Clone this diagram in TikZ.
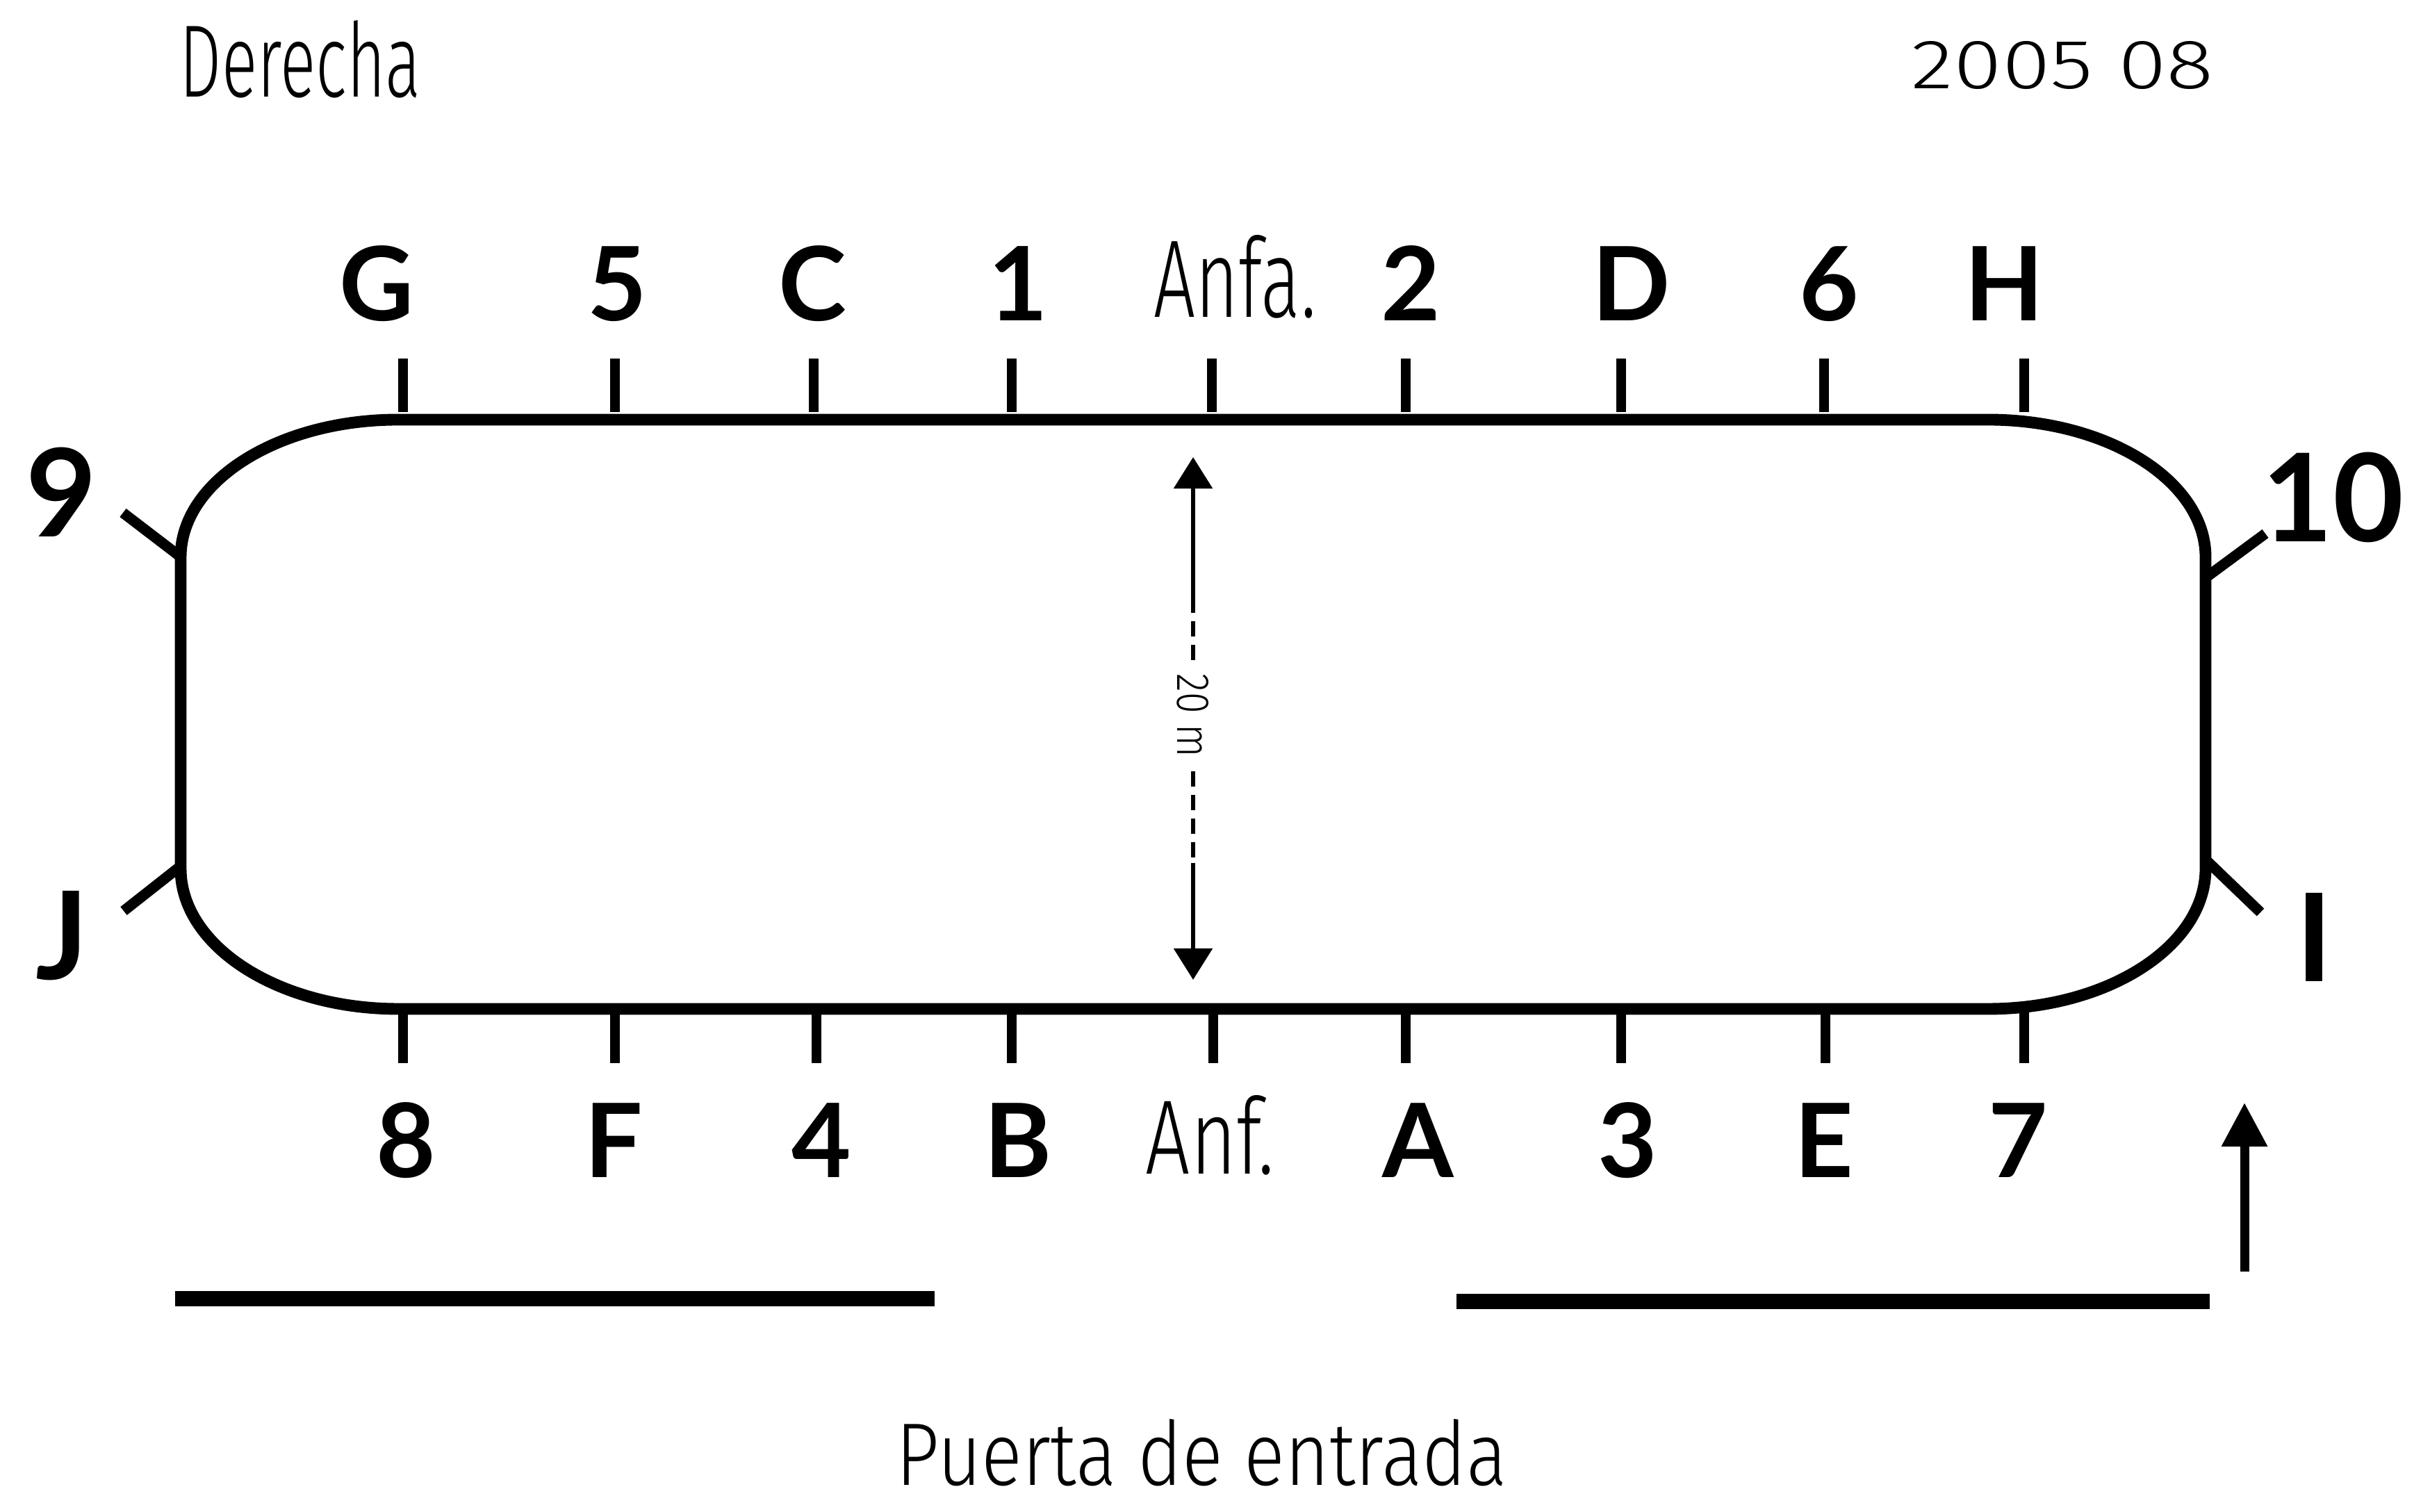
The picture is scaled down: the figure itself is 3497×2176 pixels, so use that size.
\documentclass[tikz,border=0pt]{standalone}
\usepackage{fontspec}
\usepackage{graphicx}
\setmainfont{Lato}
\newfontfamily\thinfont{Fira Sans Light}
\usetikzlibrary{arrows.meta}
\begin{document}
\begin{tikzpicture}[x=0.01cm,y=0.01cm,
  outline/.style={line width=4.8pt, line join=round},
  tickmark/.style={line width=3.8pt},
  diag/.style={line width=4.3pt},
  lbl/.style={font=\fontsize{42}{42}\selectfont\bfseries, anchor=base, inner sep=0pt},
  sidelbl/.style={font=\fontsize{50}{50}\selectfont\bfseries, anchor=base, inner sep=0pt},
  thintext/.style={inner sep=0pt, anchor=base west},
  ground/.style={line width=6.2pt},
  cline/.style={line width=1.6pt},
  cdash/.style={line width=1.6pt, dash pattern=on 0.22cm off 0.12cm},
]
\useasboundingbox (0,0) rectangle (3497,2176);

% arena outline
\draw[outline] (573,1572) -- (2861,1572)
  arc[start angle=90, end angle=0, x radius=313, y radius=198]
  -- (3174,926)
  arc[start angle=0, end angle=-90, x radius=313, y radius=202]
  -- (573,724)
  arc[start angle=270, end angle=180, x radius=313, y radius=202]
  -- (260,1374)
  arc[start angle=180, end angle=90, x radius=313, y radius=198]
  -- cycle;

% tick marks
\foreach \x in {580,885,1171,1456,1744,2023,2333,2625,2913}
  \draw[tickmark] (\x,1660) -- (\x,1583);
\foreach \x in {580,885,1175,1456,1746,2023,2333,2627,2913}
  \draw[tickmark] (\x,724) -- (\x,646);

% diagonal corner ticks
\draw[diag] (258,1376) -- (177,1438);
\draw[diag] (3176,1346) -- (3260,1408);
\draw[diag] (258,928) -- (178,865);
\draw[diag] (3177,936) -- (3253,863);

% top labels
\node[lbl] (lG) at (542,1714) {G};
\node[lbl] (l5) at (888,1714) {5};
\node[lbl] (lC) at (1169,1714) {C};
\node[lbl] (l1) at (1465,1714) {1};
\node[thintext] (anfa) at (1660,1719) {\thinfont\resizebox{2.33cm}{1.18cm}{Anfa.}};
\node[lbl] (l2) at (2030,1714) {2};
\node[lbl] (lD) at (2348,1714) {D};
\node[lbl] (l6) at (2632,1714) {6};
\node[lbl] (lH) at (2884,1714) {H};

% bottom labels
\node[lbl] (l8) at (584,481) {8};
\node[lbl] (lF) at (883,481) {F};
\node[lbl] (l4) at (1182,481) {4};
\node[lbl] (lB) at (1465,481) {B};
\node[thintext] (anf) at (1648,486) {\thinfont\resizebox{1.85cm}{1.13cm}{Anf.}};
\node[lbl] (lA) at (2041,481) {A};
\node[lbl] (l3) at (2342,481) {3};
\node[lbl] (lE) at (2625,481) {E};
\node[lbl] (l7) at (2904,481) {7};

% side labels
\node[sidelbl] (l9) at (88,1403) {9};
\node[sidelbl] (l10) at (3357,1396) {10};
\node[sidelbl] (lJ) at (89,766) {J};
\node[sidelbl] (lI) at (3331,763) {I};

% header texts
\node[thintext] (derecha) at (258,2036) {\thinfont\resizebox{3.47cm}{1.1cm}{Derecha}};
\node[thintext] (fecha) at (2750,2048) {\thinfont\resizebox{4.35cm}{0.68cm}{2005 08}};

% central width arrow
\coordinate (ctop) at (1717,1518);
\coordinate (cbot) at (1717,766);
\coordinate (c1) at (1717,1305);
\coordinate (c2) at (1717,1226);
\coordinate (c3) at (1717,1066);
\coordinate (c4) at (1717,934);
\draw[cline, -{Triangle[width=0.55cm,length=0.45cm]}] (c1) -- (ctop);
\draw[cdash] (c2) -- (c1);
\node[rotate=-90, inner sep=0pt] (ancho) at (1717,1146) {\thinfont\resizebox{1.2cm}{0.45cm}{20 m}};
\draw[cdash] (c3) -- (c4);
\draw[cline, -{Triangle[width=0.55cm,length=0.45cm]}] (c4) -- (cbot);

% ground lines and entry arrow
\coordinate (g1) at (252,307);
\coordinate (g2) at (1345,307);
\coordinate (g3) at (2096,303);
\coordinate (g4) at (3180,303);
\draw[ground] (g1) -- (g2);
\draw[ground] (g3) -- (g4);
\coordinate (e1) at (3230,346);
\coordinate (e2) at (3230,589);
\draw[line width=3.7pt, -{Triangle[width=0.63cm,length=0.63cm]}] (e1) -- (e2);

% bottom caption
\node[thintext] (puerta) at (1289,39) {\thinfont\resizebox{8.79cm}{0.95cm}{Puerta de entrada}};
\end{tikzpicture}
\end{document}
